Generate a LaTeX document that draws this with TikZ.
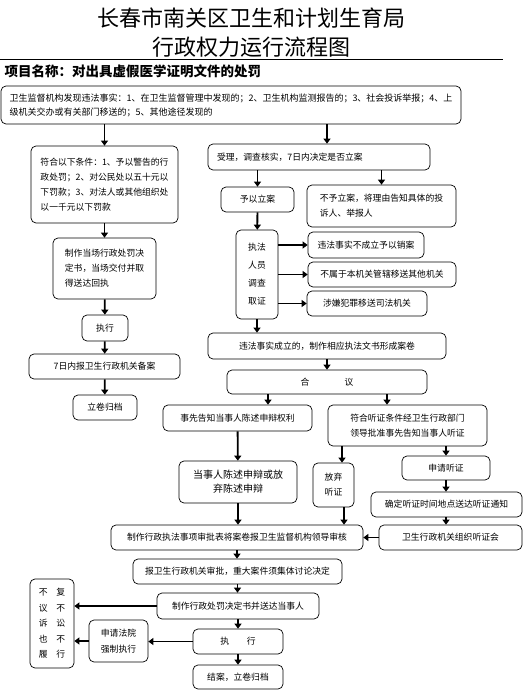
\documentclass[tikz,border=0pt]{standalone}
\usepackage{fontspec}
\setmainfont{Noto Sans CJK SC}
\usetikzlibrary{arrows.meta}

\tikzset{
  box/.style={draw, rounded corners=5pt, line width=0.7pt, inner sep=0pt, align=left,
    font=\fontsize{8.8}{15}\selectfont},
  arr/.style={line width=1.8pt, -{Triangle[length=5pt,width=7pt]}}
}

\begin{document}
\begin{tikzpicture}[x=1pt,y=-1pt]

\useasboundingbox (0,0) rectangle (525,692);

\node[font=\fontsize{22}{22}\selectfont] (title1) at (251,18) {长春市南关区卫生和计划生育局};
\node[font=\fontsize{22}{22}\selectfont] (title2) at (251,47) {行政权力运行流程图};
\draw[line width=0.8pt] (0,59) -- (503,59);
\node[anchor=west, font=\bfseries\fontsize{13.5}{14}\selectfont] (item) at (1,71) {项目名称：对出具虚假医学证明文件的处罚};

\node[box, minimum width=460, minimum height=38, font=\fontsize{9}{14}\selectfont] (find) at (231,105)
  {卫生监督机构发现违法事实：1、在卫生监督管理中发现的；2、卫生机构监测报告的；3、社会投诉举报；4、上\\级机关交办或有关部门移送的；5、其他途径发现的};

\node[box, minimum width=147, minimum height=77] (cond) at (104.5,184.5)
  {符合以下条件：1、予以警告的行\\政处罚；2、对公民处以五十元以\\下罚款；3、对法人或其他组织处\\以一千元以下罚款};
\node[box, minimum width=103, minimum height=61] (onsite) at (104.5,268.5)
  {制作当场行政处罚决\\定书，当场交付并取\\得送达回执};
\node[box, minimum width=46, minimum height=26] (exec1) at (105,328) {执行};
\node[box, minimum width=151, minimum height=25] (file7) at (104.5,366.5) {7日内报卫生行政机关备案};
\node[box, minimum width=64, minimum height=25] (archive1) at (105,407.5) {立卷归档};

\node[box, minimum width=222, minimum height=26, text width=204pt] (accept) at (319,157)
  {受理，调查核实，7日内决定是否立案};
\node[box, minimum width=73, minimum height=25] (filed) at (257.5,199.5) {予以立案};
\node[box, minimum width=149, minimum height=42] (nofile) at (381.5,206)
  {不予立案，将理由告知具体的投\\诉人、举报人};
\node[box, minimum width=42, minimum height=89, align=center, font=\fontsize{8.8}{18}\selectfont] (invest) at (257,274.5)
  {执法\\人员\\调查\\取证};
\node[box, minimum width=116, minimum height=26] (cancel) at (366,245) {违法事实不成立予以销案};
\node[box, minimum width=148, minimum height=25] (transfer) at (382,274.5) {不属于本机关管辖移送其他机关};
\node[box, minimum width=120, minimum height=25] (judicial) at (367,303.5) {涉嫌犯罪移送司法机关};

\node[box, minimum width=238, minimum height=26] (dossier) at (327,346) {违法事实成立的，制作相应执法文书形成案卷};
\node[box, minimum width=200, minimum height=24] (discuss) at (327,382) {合\hspace{4em}议};
\node[box, minimum width=149, minimum height=26] (notify) at (237.5,418) {事先告知当事人陈述申辩权利};
\node[box, minimum width=159, minimum height=41, align=center] (hearing) at (407.5,425.5)
  {符合听证条件经卫生行政部门\\领导批准事先告知当事人听证};
\node[box, minimum width=118, minimum height=42, align=center, font=\fontsize{10}{14}\selectfont] (statement) at (238,482)
  {当事人陈述申辩或放\\弃陈述申辩};
\node[box, minimum width=41, minimum height=44, align=center] (waive) at (333.5,485) {放弃\\听证};
\node[box, minimum width=88, minimum height=24] (apply) at (446,468) {申请听证};
\node[box, minimum width=151, minimum height=25] (notice) at (446.5,504.5) {确定听证时间地点送达听证通知};
\node[box, minimum width=143, minimum height=25] (meeting) at (450.5,537.5) {卫生行政机关组织听证会};
\node[box, minimum width=252, minimum height=25] (review) at (237,537.5) {制作行政执法事项审批表将案卷报卫生监督机构领导审核};
\node[box, minimum width=209, minimum height=25] (approve) at (237.5,571.5) {报卫生行政机关审批，重大案件须集体讨论决定};
\node[box, minimum width=162, minimum height=26] (decision) at (238,606) {制作行政处罚决定书并送达当事人};
\node[box, minimum width=44, minimum height=89, font=\fontsize{8.8}{15.5}\selectfont] (nocomply) at (52,623.5)
  {不\hspace{1em}复\\议\hspace{1em}不\\诉\hspace{1em}讼\\也\hspace{1em}不\\履\hspace{1em}行};
\node[box, minimum width=90, minimum height=25] (exec2) at (238,641.5) {执\hspace{2em}行};
\node[box, minimum width=59, minimum height=42, font=\fontsize{8.8}{16}\selectfont] (court) at (118.5,641) {申请法院\\强制执行};
\node[box, minimum width=90, minimum height=24] (close) at (238,677) {结案，立卷归档};

\draw[arr] (find.south -| cond.north) -- (cond.north);
\draw[arr] ([xshift=8pt]accept.north |- find.south) -- ([xshift=8pt]accept.north);
\draw[arr] (cond) -- (onsite);
\draw[arr] (onsite) -- (exec1);
\draw[arr] (exec1) -- (file7);
\draw[arr] (file7) -- (archive1);
\draw[arr] (filed.north |- accept.south) -- (filed.north);
\draw[arr] (nofile.north |- accept.south) -- (nofile.north);
\draw[arr] (filed) -- (invest);
\draw[arr] (invest.east |- cancel) -- (cancel.west);
\draw[arr] (invest.east |- transfer) -- (transfer.west);
\draw[arr] (invest.east |- judicial) -- (judicial.west);
\draw[arr] (invest.south) -- (invest.south |- dossier.north);
\draw[arr] (dossier) -- (discuss);
\draw[arr] ([xshift=-59pt]discuss.south) -- ([xshift=-59pt]discuss.south |- notify.north);
\draw[arr] ([xshift=60pt]discuss.south) -- ([xshift=60pt]discuss.south |- hearing.north);
\draw[arr] (notify) -- (statement);
\draw[arr] ([xshift=8.5pt]waive.north |- hearing.south) -- ([xshift=8.5pt]waive.north);
\draw[arr] (apply.north |- hearing.south) -- (apply.north);
\draw[arr] (apply.south) -- (apply.south |- notice.north);
\draw[arr] (apply.south |- notice.south) -- (apply.south |- meeting.north);
\draw[arr] (meeting.west) -- (meeting.west -| review.east);
\draw[arr] (statement.south) -- (statement.south |- review.north);
\draw[arr] ([xshift=10.5pt]waive.south) -- ([xshift=10.5pt]waive.south |- review.north);
\draw[arr] (review.south) -- (review.south |- approve.north);
\draw[arr] (approve.south) -- (approve.south |- decision.north);
\draw[arr] (decision.west) -- (decision.west -| nocomply.east);
\draw[arr] (decision.south) -- (decision.south |- exec2.north);
\draw[arr] (exec2.west) -- (exec2.west -| court.east);
\draw[arr] (court.west) -- (court.west -| nocomply.east);
\draw[arr] (exec2) -- (close);

\end{tikzpicture}
\end{document}
